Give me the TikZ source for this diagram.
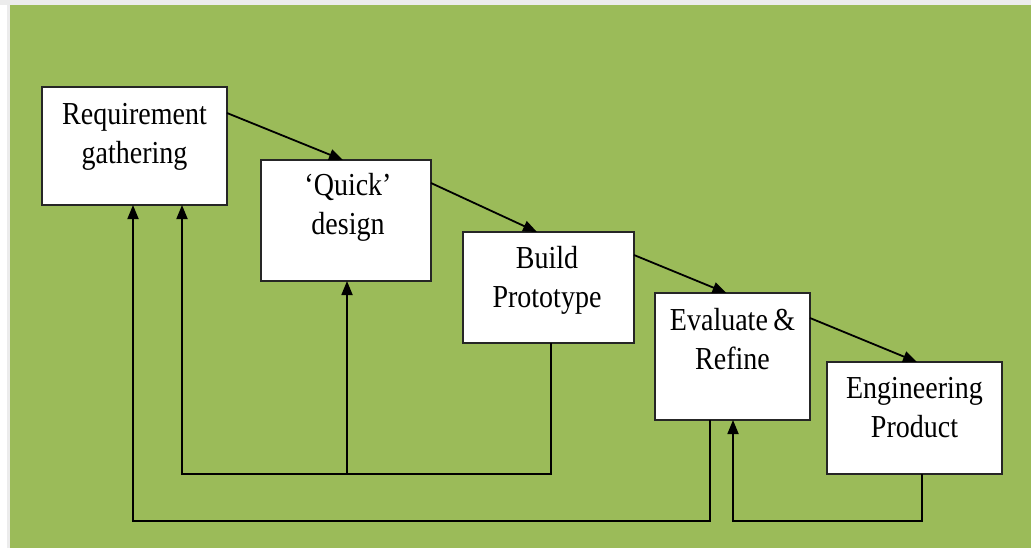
\documentclass[tikz,border=0pt]{standalone}
\usepackage{fontspec}
\newfontfamily\diagfont[FakeStretch=0.875]{Liberation Serif}
\usetikzlibrary{arrows.meta,calc}
\definecolor{bggreen}{HTML}{9BBB59}
\definecolor{edgegray}{HTML}{262626}
\definecolor{framegray}{HTML}{ECECEC}
\begin{document}
\begin{tikzpicture}[x=0.5pt,y=-0.5pt,
  box/.style={draw=edgegray, line width=0.8pt, fill=white, inner sep=0pt, outer sep=0pt, rectangle},
  lbl/.style={anchor=north, inner sep=0pt, align=center, font=\diagfont\fontsize{16pt}{19.5pt}\selectfont},
  flow/.style={draw=black, line width=0.9pt, -{Triangle[length=7pt,width=5.5pt]}}]
\useasboundingbox (0,0) rectangle (1031,548);
\fill[white] (0,0) rectangle (1031,548);
\fill[framegray] (0,0) rectangle (1031,5);
\fill[framegray] (7,0) rectangle (10,548);
\fill[bggreen] (10,5) rectangle (1031,548);

% boxes
\node[box, minimum width=92.5pt, minimum height=59pt] (req) at (134.5,146) {};
\node[box, minimum width=85pt, minimum height=60.5pt] (quick) at (346,220.5) {};
\node[box, minimum width=85.5pt, minimum height=55.5pt] (build) at (548.5,287.5) {};
\node[box, minimum width=77.5pt, minimum height=63.5pt] (eval) at (732.5,356.5) {};
\node[box, minimum width=87.5pt, minimum height=56pt] (eng) at (914.5,418) {};

% labels
\node[lbl] (reqt) at (req.north) {\rule{0pt}{18.5pt}Requirement\\gathering};
\node[lbl] (quickt) at ($(quick.north)+(2,0)$) {\rule{0pt}{17.5pt}‘Quick’\\design};
\node[lbl] (buildt) at ($(build.north)+(-1.5,0)$) {\rule{0pt}{18pt}Build\\Prototype};
\node[lbl] (evalt) at (eval.north) {\rule{0pt}{18.5pt}Evaluate\,\&\\Refine};
\node[lbl] (engt) at (eng.north) {\rule{0pt}{18pt}Engineering\\Product};

% forward flow
\draw[flow] ($(req.north east)+(0,26)$) -- ($(quick.north)+(-3,0)$);
\draw[flow] ($(quick.north east)+(0,23)$) -- ($(build.north)+(-11.5,0)$);
\draw[flow] ($(build.north east)+(0,23)$) -- ($(eval.north)+(-6,0)$);
\draw[flow] ($(eval.north east)+(0,25)$) -- ($(eng.north)+(2.5,0)$);

% feedback
\coordinate (fbA) at (182,474);
\coordinate (fbB) at (347,474);
\coordinate (fbC) at (133,521);
\coordinate (fbD) at (733,521);
\draw[flow] ($(build.south)+(2.5,0)$) |- (fbA) -- (fbA |- req.south);
\draw[flow] (fbB) -- (fbB |- quick.south);
\draw[flow] ($(eval.south)+(-22.5,0)$) |- (fbC) -- (fbC |- req.south);
\draw[flow] ($(eng.south)+(7.5,0)$) |- (fbD) -- (fbD |- eval.south);
\end{tikzpicture}
\end{document}
